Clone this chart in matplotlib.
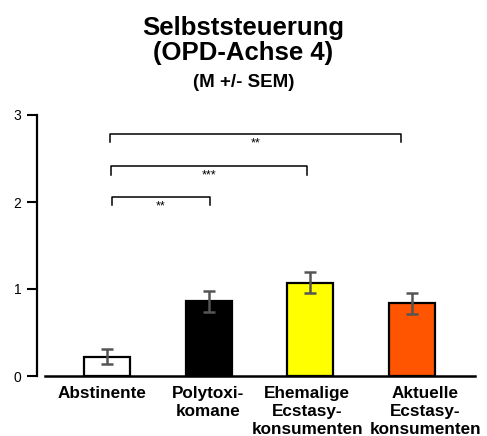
import matplotlib.pyplot as plt

plt.rcParams['font.family'] = ['Liberation Sans', 'DejaVu Sans']

groups = ["Abstinente", "Polytoxi-\nkomane", "Ehemalige\nEcstasy-\nkonsumenten", "Aktuelle\nEcstasy-\nkonsumenten"]
means = [0.22, 0.86, 1.07, 0.835]
sems = [0.085, 0.12, 0.12, 0.12]
colors = ["white", "black", "#FFFF00", "#FF5400"]

# label anchors are nudged a little so the long names don't collide
label_pos = [-0.054, 0.99, 1.97, 3.13]

# significance brackets: (x start, x end, top, leg bottom, stars)
brackets = [
    (0.05, 1.01, 2.06, 1.96, "**"),
    (0.04, 1.97, 2.41, 2.31, "***"),
    (0.03, 2.89, 2.785, 2.685, "**"),
]

fig = plt.figure(figsize=(4.87, 4.36), dpi=100)
ax = fig.add_axes([45 / 487, 60 / 436, 430 / 487, 261 / 436])

x = range(len(groups))
ax.bar(x, means, width=0.45, color=colors, edgecolor="black", linewidth=1.6, zorder=2)
ax.errorbar(x, means, yerr=sems, fmt="none", ecolor="#555555", elinewidth=1.8,
            capsize=4.3, capthick=1.8, zorder=3)

for x0, x1, top, bot, stars in brackets:
    ax.plot([x0, x0, x1, x1], [bot, top, top, bot], color="black", lw=1.1, zorder=1)
    ax.text((x0 + x1) / 2, bot - 0.01, stars, ha="center", va="center", fontsize=9)

ax.set_xlim(-0.61, 3.62)
ax.set_ylim(0, 3)
ax.set_yticks([0, 1, 2, 3])
ax.set_xticks(label_pos)
ax.set_xticklabels(groups, fontweight="bold", fontsize=12.3, linespacing=1.28)
ax.tick_params(axis="x", length=0, pad=7)
ax.tick_params(axis="y", length=7, width=1.5, labelsize=10, direction="out", pad=4)

for side in ["top", "right"]:
    ax.spines[side].set_visible(False)
ax.spines["left"].set_position(("outward", 6))
ax.spines["left"].set_linewidth(1.6)
ax.spines["bottom"].set_linewidth(1.8)

fig.text(0.5, 0.936, "Selbststeuerung", ha="center", va="center", fontsize=18.5, fontweight="bold")
fig.text(0.5, 0.878, "(OPD-Achse 4)", ha="center", va="center", fontsize=18.5, fontweight="bold")
fig.text(0.5, 0.81, "(M +/- SEM)", ha="center", va="center", fontsize=13.5, fontweight="bold")

fig.savefig("out.png", dpi=100)
